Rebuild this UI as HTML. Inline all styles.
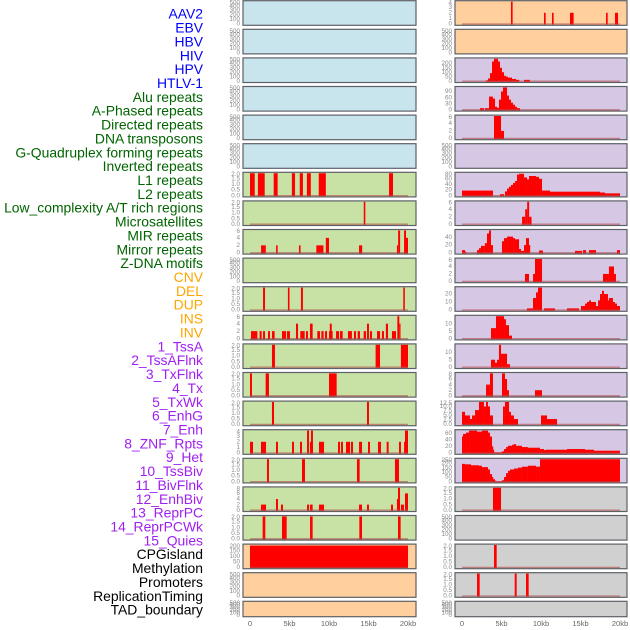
<!DOCTYPE html>
<html><head><meta charset="utf-8">
<style>
html,body{margin:0;padding:0;background:#fff;}
svg{display:block;font-family:"Liberation Sans",sans-serif;}
</style></head>
<body>
<svg id="chart" width="630" height="630" viewBox="0 0 630 630"></svg>
<script>
const rowLabels = ["AAV2","EBV","HBV","HIV","HPV","HTLV-1","Alu repeats","A-Phased repeats","Directed repeats","DNA transposons","G-Quadruplex forming repeats","Inverted repeats","L1 repeats","L2 repeats","Low_complexity A/T rich regions","Microsatellites","MIR repeats","Mirror repeats","Z-DNA motifs","CNV","DEL","DUP","INS","INV","1_TssA","2_TssAFlnk","3_TxFlnk","4_Tx","5_TxWk","6_EnhG","7_Enh","8_ZNF_Rpts","9_Het","10_TssBiv","11_BivFlnk","12_EnhBiv","13_ReprPC","14_ReprPCWk","15_Quies","CPGisland","Methylation","Promoters","ReplicationTiming","TAD_boundary"];
const labelGroups = [6,13,5,15,5];
const groupColors = ["#0000ff","#006400","#ffa500","#a020f0","#000000"];
const xTickValues = [0,5,10,15,20];
const xTickLabels = ["0","5kb","10kb","15kb","20kb"];

const ticks500=[0,100,200,300,400,500];
const ticks2=[0,0.5,1,1.5,2];
const ticks4=[0,1,2,3,4];
const ticks6=[0,2,4,6];
const ticks8=[0,2,4,6,8];
const ticks200=[0,50,100,150,200];
const ticks250=[0,50,100,150,200,250];
const ticks90=[0,30,60,90];
const ticks80=[0,20,40,60,80];
const ticks40=[0,20,40];
const ticks20=[0,10,20];
const ticks10=[0,5,10];
const ticks12=[0,2.5,5,7.5,10,12.5];
const ticks60=[0,20,40,60];

const barsEmpty=[];
const barsL6=[[0,0.6,2],[1.0,1.86,2],[3.0,3.5,2],[5.3,5.7,2],[6.3,6.7,2],[7.2,7.7,2],[8.7,9.6,2],[17.6,18.1,2]];
const barsL7=[[14.4,14.6,2]];
const barsL8=[[1.4,2.0,2],[3.3,3.5,2],[6.2,6.4,2],[8.4,9.3,2],[9.6,10,4],[13.8,14.2,2],[18.6,18.75,2],[18.75,19.0,6],[19.5,19.75,6],[19.6,20,4]];
const barsL10=[[1.65,1.9,2],[4.8,5.0,2],[6.45,6.7,2],[19.4,19.6,2]];
const barsL11=[[0.13,0.93,2],[1.22,1.48,2],[1.65,1.9,2],[2.28,2.53,2],[2.78,3.12,2],[4.05,4.56,2],[4.68,5.06,2],[5.82,6.08,4],[6.37,6.92,2],[7.09,7.34,2],[7.59,7.93,4],[8.52,8.86,2],[9.03,9.32,2],[9.49,9.75,2],[10.0,10.46,2],[10.1,10.35,4],[10.89,11.27,2],[11.39,11.73,2],[12.4,12.9,2],[13.16,13.42,2],[13.63,13.92,2],[14.39,14.68,2],[14.81,15.06,4],[15.19,15.44,2],[16.08,16.46,2],[16.7,16.96,2],[17.2,17.47,4],[17.97,18.48,2],[18.65,18.9,6],[18.9,19.03,4]];
const barsL12=[[2.78,3.16,2],[15.9,16.46,2],[19.1,20,2]];
const barsL13=[[0,0.25,2],[1.98,2.4,2],[10,10.97,2]];
const barsL14=[[2.78,3.04,2],[14.81,15.06,2]];
const barsL15=[[0,0.38,2],[1.39,2.03,2],[3.29,3.54,2],[5.32,5.57,2],[6.33,6.58,2],[7.22,7.47,4],[7.59,7.97,2],[7.72,7.97,4],[8.73,9.37,2],[11.14,11.39,2],[11.52,11.77,2],[12.15,12.66,2],[12.78,13.04,2],[13.8,14.18,2],[14.94,15.19,2],[16.2,16.58,2],[17.3,17.55,2],[18.86,19.11,2],[19.5,19.87,2],[19.62,20,4]];
const barsL16=[[2.15,2.4,2],[6.58,6.96,2],[13.54,13.88,2],[18.35,18.86,2]];
const barsL17=[[1.39,2.03,2],[3.29,3.54,4],[3.92,4.18,2],[7.22,7.47,2],[7.59,7.93,2],[8.73,9.37,2],[13.8,14.18,2],[14.81,15.06,2],[17.85,18.1,2],[18.6,18.86,4],[18.73,18.99,8],[19.11,19.49,2],[19.62,20,6]];
const barsL18=[[1.6,1.94,2],[4.05,4.64,2],[7.6,7.93,2],[13.84,14.18,2],[18.73,19.07,2]];
const barsL19=[[0,20,195]];

const barsR0=[[6.2,6.41,4],[10.38,10.59,2],[11.39,11.6,2],[13.67,14.13,2],[18.23,18.44,2],[19.37,19.75,2]];
const barsR2=[[3.04,3.29,10],[3.29,3.54,30],[3.54,3.8,90],[3.8,4.05,220],[4.05,4.56,250],[4.56,4.81,220],[4.81,5.06,150],[5.06,5.32,100],[5.32,5.57,60],[5.57,5.82,50],[5.82,6.33,40],[6.33,6.84,25],[6.84,7.26,15],[7.85,8.6,15]];
const barsR3=[[2.28,2.78,8],[2.9,3.42,8],[3.42,3.92,65],[3.92,4.18,55],[4.18,4.43,15],[4.43,4.68,10],[4.68,4.94,50],[4.94,5.19,90],[5.19,5.7,110],[5.7,5.95,70],[5.95,6.2,50],[6.2,6.46,35],[6.46,6.71,25],[6.71,6.96,15],[6.96,7.34,8]];
const barsR4=[[4.05,4.94,6],[4.94,5.32,2]];
const barsR6=[[0,3.92,18],[4.81,5.32,5],[5.44,5.7,15],[5.7,5.95,25],[5.95,6.2,32],[6.2,6.46,38],[6.46,6.71,45],[6.71,6.96,52],[6.96,7.22,75],[7.22,7.85,78],[7.85,8.23,65],[8.23,8.48,58],[8.48,9.37,70],[9.37,9.75,67],[9.75,10.13,60],[10.13,11.14,18],[11.14,17.47,14],[17.47,18.1,11],[18.1,20,8]];
const barsR7=[[7.6,8.0,2],[8.0,8.25,4],[8.25,8.5,6],[8.5,8.8,2]];
const barsR8=[[0,0.38,7],[0.38,0.5,3],[1.9,2.15,7],[2.15,2.4,12],[2.4,2.9,18],[2.9,3.16,25],[3.16,3.42,50],[3.42,3.67,58],[3.67,3.92,20],[5.06,5.32,30],[5.32,5.7,38],[5.7,6.46,42],[6.46,6.71,38],[6.71,7.22,35],[7.22,7.47,10],[7.47,7.85,5],[7.85,8.1,20],[8.1,8.48,38],[8.48,8.6,20],[9.75,10.25,6],[14.3,15.19,5],[15.32,15.7,7],[16.08,16.96,7],[19.62,20,7]];
const barsR9=[[7.97,8.48,2],[8.99,9.24,2],[9.24,10.13,6],[17.85,18.6,2],[18.6,19.24,4],[19.24,19.49,2]];
const barsR10=[[8.23,8.99,2],[8.99,9.37,15],[9.37,9.62,22],[9.62,10.13,28],[10.38,11.77,2],[13.29,14.81,2],[15.06,15.57,5],[15.57,15.82,8],[15.82,16.08,10],[16.08,16.33,12],[16.33,16.96,10],[16.96,17.22,5],[17.22,17.47,12],[17.47,17.72,20],[17.72,17.97,24],[17.97,18.48,20],[18.48,18.6,12],[18.6,19.11,15],[19.11,19.37,10],[19.37,19.62,8],[19.62,20,5]];
const barsR11=[[3.67,4.3,7],[4.3,5.32,15],[5.32,5.57,13],[5.57,5.95,9],[5.95,6.33,2]];
const barsR12=[[3.67,4.18,5],[4.18,4.43,3],[4.43,4.68,5],[4.68,4.94,15],[4.94,5.7,9],[5.7,6.08,2]];
const barsR13=[[3.04,3.54,4],[3.54,3.92,8],[5.06,5.44,8],[5.44,5.7,6],[5.7,5.95,2],[9.24,10.13,2]];
const barsR14=[[0,0.38,7],[0.38,1.01,5],[1.01,1.27,3],[1.27,1.65,5],[1.65,2.15,8],[2.15,2.78,12.5],[2.78,3.04,10],[3.04,3.29,12.5],[3.29,3.54,10],[3.54,3.92,5],[5.19,5.44,10],[5.44,5.95,12.5],[5.95,6.2,7],[6.2,6.58,5],[6.58,7.09,3],[10,10.76,5],[10.76,12.03,3]];
const barsR15=[[0,0.13,50],[0.13,0.51,58],[0.51,0.89,62],[0.89,1.9,68],[1.9,2.53,65],[2.53,3.29,68],[3.29,3.54,62],[3.54,3.8,50],[3.8,3.92,20],[3.92,4.05,10],[4.05,5.06,2],[5.06,5.32,5],[5.32,5.57,12],[5.57,5.82,18],[5.82,6.33,22],[6.33,6.58,25],[6.58,6.84,27],[6.84,7.59,22],[7.59,8.35,18],[8.35,9.87,16],[9.87,10.38,12],[10.38,10.63,9],[10.63,13.29,10],[13.29,15.57,12],[15.57,16.7,10],[16.7,20,7]];
const barsR16=[[0,0.38,190],[0.38,1.14,185],[1.14,2.15,175],[2.15,2.53,170],[2.53,3.29,155],[3.29,3.54,130],[3.54,3.8,80],[3.8,3.92,50],[3.92,4.18,25],[4.18,4.3,10],[4.3,5.06,2],[5.06,5.32,15],[5.32,5.57,50],[5.57,5.82,90],[5.82,6.08,115],[6.08,6.58,130],[6.58,7.09,140],[7.09,7.59,150],[7.59,8.35,160],[8.35,9.37,170],[9.37,9.87,160],[9.87,20,240]];
const barsR17=[[3.92,4.94,2]];
const barsR19=[[4.05,4.39,2]];
const barsR20=[[1.9,2.24,2],[6.67,6.92,2],[8.1,8.44,2]];

const BLUE="#c8e4ec",ORANGE="#ffd09e",PURPLE="#d6c8e4",GREEN="#c8e1a5",GRAY="#d0d0d0";
const panels=[
 [0,0,BLUE,500,ticks500,barsEmpty],[0,1,BLUE,500,ticks500,barsEmpty],[0,2,BLUE,500,ticks500,barsEmpty],
 [0,3,BLUE,500,ticks500,barsEmpty],[0,4,BLUE,500,ticks500,barsEmpty],[0,5,BLUE,500,ticks500,barsEmpty],
 [0,6,GREEN,2,ticks2,barsL6],[0,7,GREEN,2,ticks2,barsL7],[0,8,GREEN,6,ticks6,barsL8],
 [0,9,GREEN,500,ticks500,barsEmpty],[0,10,GREEN,2,ticks2,barsL10],[0,11,GREEN,6,ticks6,barsL11],
 [0,12,GREEN,2,ticks2,barsL12],[0,13,GREEN,2,ticks2,barsL13],[0,14,GREEN,2,ticks2,barsL14],
 [0,15,GREEN,4,ticks4,barsL15],[0,16,GREEN,2,ticks2,barsL16],[0,17,GREEN,8,ticks8,barsL17],
 [0,18,GREEN,2,ticks2,barsL18],[0,19,ORANGE,200,ticks200,barsL19],[0,20,ORANGE,500,ticks500,barsEmpty],
 [0,21,ORANGE,500,ticks500,barsEmpty],
 [1,0,ORANGE,4,ticks4,barsR0],[1,1,ORANGE,500,ticks500,barsEmpty],[1,2,PURPLE,250,ticks200,barsR2],
 [1,3,PURPLE,110,ticks90,barsR3],[1,4,PURPLE,6,ticks6,barsR4],[1,5,PURPLE,500,ticks500,barsEmpty],
 [1,6,PURPLE,80,ticks80,barsR6],[1,7,PURPLE,6,ticks6,barsR7],[1,8,PURPLE,58,ticks40,barsR8],
 [1,9,PURPLE,6,ticks6,barsR9],[1,10,PURPLE,28,ticks20,barsR10],[1,11,PURPLE,15,ticks10,barsR11],
 [1,12,PURPLE,15,ticks10,barsR12],[1,13,PURPLE,8,ticks8,barsR13],[1,14,PURPLE,12.5,ticks12,barsR14],
 [1,15,PURPLE,68,ticks60,barsR15],[1,16,PURPLE,240,ticks250,barsR16],[1,17,GRAY,2,ticks2,barsR17],
 [1,18,GRAY,500,ticks500,barsEmpty],[1,19,GRAY,2,ticks2,barsR19],[1,20,GRAY,2,ticks2,barsR20],
 [1,21,GRAY,500,ticks500,barsEmpty]
];

const NS="http://www.w3.org/2000/svg";
const svg=document.getElementById('chart');
function mk(tag,attrs,parent){const e=document.createElementNS(NS,tag);for(const k in attrs)e.setAttribute(k,attrs[k]);(parent||svg).appendChild(e);return e;}
const colBox=[[243,416],[455,627]];
const colX0=[250,462], pxPerKb=7.9;
function xScale(col,kb){return colX0[col]+kb*pxPerKb;}
function rowTop(r){return 0.7+28.6*r;}
function rowH(r){return r===21?15.4:24.6;}
function fmt(t,arr){return arr.some(v=>v%1!==0)?t.toFixed(1):String(t);}

let li=0;
labelGroups.forEach((n,g)=>{for(let k=0;k<n;k++){
  const t=mk('text',{x:203,y:15+li*13.86,'text-anchor':'end','dominant-baseline':'middle','font-size':'13.9',fill:groupColors[g]});
  t.textContent=rowLabels[li];
  
  
  li++;}});

panels.forEach(p=>{
  const [col,row,bg,ymax,ticks,bars]=p;
  const top=rowTop(row),h=rowH(row),bot=top+h;
  const g=mk('g',{});
  
  
  const bx=colBox[col][0],bw=colBox[col][1]-bx;
  const box=mk('rect',{x:bx,y:top,width:bw,height:h,fill:bg,stroke:'#5d6066','stroke-width':1.2},g);
  
  
  const y0=bot-1.3, span=h-2.2;
  const yScale=v=>y0-Math.min(v/ymax,1)*span;
  bars.forEach(b=>{
    const x1=xScale(col,b[0]),x2=xScale(col,b[1]);
    const r=mk('rect',{x:x1,y:yScale(b[2]),width:Math.max(x2-x1,1.2),height:y0-yScale(b[2])+0.6,fill:'#ff0000'},g);
    
    
  });
  if(bars.length){
    const bl=mk('line',{x1:xScale(col,0),x2:xScale(col,20),y1:y0,y2:y0,stroke:'#b04848','stroke-opacity':0.6,'stroke-width':1.3},g);
    
    
  }
  ticks.forEach(t=>{
    const ty=Math.max(y0-(t/ymax)*span,top+2);
    const tx=mk('text',{x:bx-3,y:ty,'text-anchor':'end','dominant-baseline':'middle','font-size':'6.3',fill:'#8a8a8a'},g);
    tx.textContent=fmt(t,ticks);
    
    
  });
});

[0,1].forEach(col=>{
  xTickValues.forEach((v,i)=>{
    const t=mk('text',{x:xScale(col,v),y:626,'text-anchor':'middle','font-size':'7.5',fill:'#666'});
    t.textContent=xTickLabels[i];
    
    
  });
});
</script>
</body></html>
